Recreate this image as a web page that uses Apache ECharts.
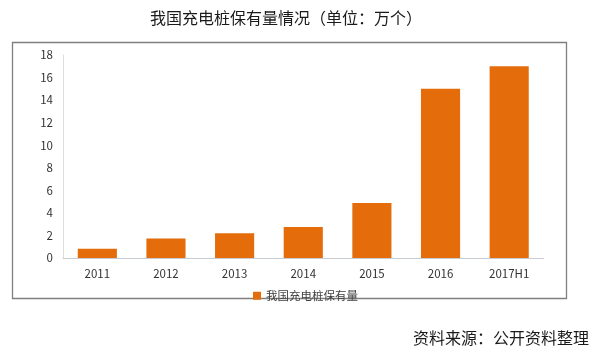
<!DOCTYPE html>
<html>
<head>
<meta charset="utf-8">
<script src="https://cdn.jsdelivr.net/npm/echarts@6/dist/echarts.min.js"></script>
<style>html,body{margin:0;padding:0;background:#fff}#c{width:594px;height:359px}</style>
</head>
<body>
<div id="c"></div>
<script>
const categories = ['2011','2012','2013','2014','2015','2016','2017H1'];
const seriesName = '我国充电桩保有量';
const values = [0.82, 1.74, 2.2, 2.75, 4.88, 15.0, 17.0];
const titleText = '我国充电桩保有量情况（单位：万个）';
const sourceText = '资料来源：公开资料整理';

const chart = echarts.init(document.getElementById('c'), null, {renderer:'canvas'});
const font = '"Noto Sans CJK SC", "Microsoft YaHei", sans-serif';
chart.setOption({
  animation: false,
  backgroundColor: '#fff',
  title: {
    text: titleText,
    left: 150,
    top: 10,
    padding: 0,
    textStyle: {fontSize: 16, fontWeight: 'normal', color: '#1a1a1a', fontFamily: font}
  },
  graphic: [
    {type:'rect', shape:{x:12.5, y:42.5, width:554, height:256}, style:{fill:'none', stroke:'#7f7f7f', lineWidth:1.3}, z:-1},
    {type:'text', right: 5, top: 330, style:{text: sourceText, fontSize: 16, fill:'#1a1a1a', fontFamily: font}}
  ],
  legend: {
    data: [seriesName],
    left: 248,
    top: 285,
    itemWidth: 8, itemHeight: 8, itemGap: 4,
    icon: 'rect',
    textStyle: {fontSize: 11.5, color: '#404040', fontFamily: font}
  },
  grid: {left: 63, right: 50.5, top: 55, bottom: 101, containLabel: false},
  xAxis: {
    type: 'category',
    data: categories,
    axisLine: {lineStyle: {color: '#c8ccd4'}},
    axisTick: {show: false},
    axisLabel: {fontSize: 11.5, color: '#333', margin: 10, fontFamily: font}
  },
  yAxis: {
    type: 'value',
    min: 0, max: 18, interval: 2,
    axisLine: {show: true, lineStyle: {color: '#dcdcdc'}},
    axisTick: {show: false},
    splitLine: {show: false},
    axisLabel: {fontSize: 11.5, color: '#333', margin: 10, fontFamily: font}
  },
  series: [{
    name: seriesName,
    type: 'bar',
    data: values,
    barCategoryGap: '43%',
    itemStyle: {color: '#E46C0A'}
  }]
});
</script>
</body>
</html>
